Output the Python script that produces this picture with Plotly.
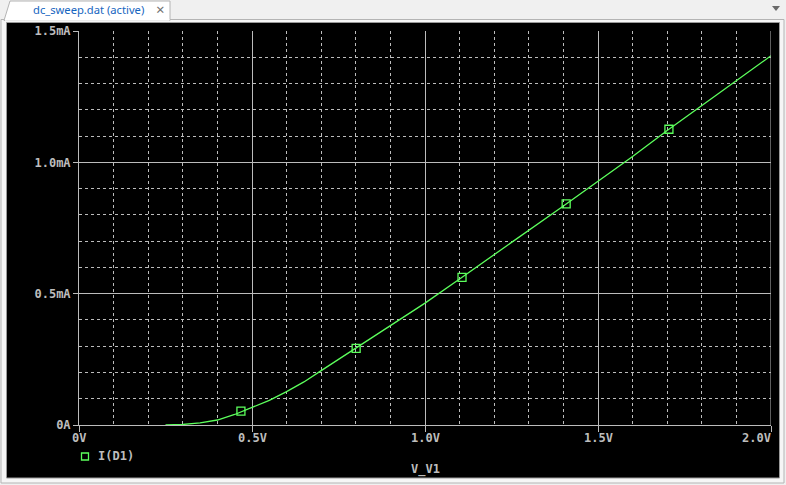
import plotly.graph_objects as go

# ---- data ----
v_sweep = [0.25, 0.30, 0.35, 0.40, 0.45, 0.50, 0.55, 0.60, 0.65, 0.70, 0.80, 0.90,
           1.00, 1.10, 1.20, 1.30, 1.40, 1.50, 1.60, 1.70, 1.80, 1.90, 2.00]
i_d1_mA = [0.000, 0.002, 0.008, 0.019, 0.040, 0.068, 0.094, 0.127, 0.164, 0.207, 0.292, 0.377,
           0.464, 0.556, 0.648, 0.741, 0.834, 0.928, 1.022, 1.121, 1.216, 1.311, 1.406]

marker_v = [0.468, 0.801, 1.107, 1.408, 1.705]
marker_i = [0.053, 0.292, 0.562, 0.842, 1.126]

x_tick_vals = [0.0, 0.5, 1.0, 1.5, 2.0]
x_tick_text = ["0V", "0.5V", "1.0V", "1.5V", "2.0V"]
y_tick_vals = [0.0, 0.5, 1.0, 1.5]
y_tick_text = ["0A", "0.5mA", "1.0mA", "1.5mA"]

trace_name = "I(D1)"
x_title = "V_V1"
tab_title = "dc_sweep.dat (active)"

# ---- layout geometry helpers ----
W, H = 786, 485
L, R, T, B = 79, 771, 31, 425
PW, PH = R - L, B - T


def px(x):
    return (x - L) / PW


def py(y):
    return (B - y) / PH


GREEN = "#5cff5c"
GRID = "#bcbcbc"
TXT = "#bdbdbd"
MONO = "DejaVu Sans Mono"
LBL = dict(family=MONO, size=12, color=TXT, weight="bold")

fig = go.Figure()
fig.add_trace(go.Scatter(x=v_sweep, y=i_d1_mA, mode="lines",
                         line=dict(color=GREEN, width=1.3), cliponaxis=False,
                         showlegend=False, hoverinfo="skip"))
fig.add_trace(go.Scatter(x=marker_v, y=marker_i, mode="markers", name=trace_name,
                         marker=dict(symbol="square-open", size=8,
                                     line=dict(color=GREEN, width=1.3), color=GREEN),
                         cliponaxis=False, showlegend=False))

shapes = [
    # outer frame
    dict(type="rect", xref="paper", yref="paper", x0=px(1), x1=px(784), y0=py(483), y1=py(19.5),
         fillcolor="#f6f6f6", line=dict(color="#b4b4b4", width=1), layer="below"),
    # black panel
    dict(type="rect", xref="paper", yref="paper", x0=px(6.5), x1=px(779.5), y0=py(478), y1=py(22.5),
         fillcolor="black", line=dict(color="#9a9a9a", width=1), layer="below"),
    # tab
    dict(type="path", xref="paper", yref="paper",
         path=f"M {px(4)} {py(20.5)} L {px(10)} {py(1)} L {px(170)} {py(1)} L {px(170)} {py(20.5)} Z",
         fillcolor="white", line=dict(color="#b4b4b4", width=1), layer="below"),
    dict(type="line", xref="paper", yref="paper", x0=px(5), x1=px(169.5), y0=py(20), y1=py(20),
         line=dict(color="white", width=1.5), layer="below"),
    # dropdown triangle
    dict(type="path", xref="paper", yref="paper",
         path=f"M {px(772)} {py(6)} L {px(780)} {py(6)} L {px(776)} {py(11)} Z",
         fillcolor="#6a6a6a", line=dict(width=0), layer="below"),
    # legend square
    dict(type="rect", xref="paper", yref="paper", x0=px(81.5), x1=px(88.5), y0=py(460), y1=py(453),
         fillcolor="rgba(0,0,0,0)", line=dict(color=GREEN, width=1.3)),
]

annotations = []
for v, t in zip(x_tick_vals, x_tick_text):
    last = v == x_tick_vals[-1]
    annotations.append(dict(x=v, xref="x", y=py(438), yref="paper", text=t, showarrow=False,
                            xanchor="right" if last else "center", yanchor="middle",
                            xshift=2 if last else 0, font=LBL))
annotations += [
    dict(x=1.0, xref="x", y=py(469), yref="paper", text=x_title, showarrow=False,
         xanchor="center", yanchor="middle", font=LBL),
    dict(x=px(96), xref="paper", y=py(456), yref="paper", text=trace_name, showarrow=False,
         xanchor="left", yanchor="middle", font=LBL),
    dict(x=px(88), xref="paper", y=py(9.5), yref="paper", text=tab_title, showarrow=False,
         xanchor="center", yanchor="middle", font=dict(family="Noto Sans", size=11.2, color="#1565c0")),
    dict(x=px(160), xref="paper", y=py(9.5), yref="paper", text="×", showarrow=False,
         xanchor="center", yanchor="middle", font=dict(family="Noto Sans", size=15, color="#707070")),
]

fig.update_layout(
    width=W, height=H,
    margin=dict(l=L, r=W - R, t=T, b=H - B, pad=0),
    paper_bgcolor="#f0f0f0", plot_bgcolor="black",
    shapes=shapes, annotations=annotations, showlegend=False,
    xaxis=dict(range=[0, 2], tickvals=x_tick_vals, showticklabels=False,
               ticks="outside", ticklen=6, tickcolor=GRID, tickwidth=1,
               showgrid=True, gridcolor=GRID, gridwidth=1,
               showline=True, linecolor=GRID, linewidth=1, mirror=False, zeroline=False,
               minor=dict(dtick=0.1, showgrid=True, gridcolor=GRID, griddash="3px,3px",
                          gridwidth=1, ticks="")),
    yaxis=dict(range=[0, 1.5], tickvals=y_tick_vals, ticktext=y_tick_text,
               ticks="outside", ticklen=5, tickcolor=GRID, tickwidth=1,
               tickfont=LBL,
               showgrid=True, gridcolor=GRID, gridwidth=1,
               showline=True, linecolor=GRID, linewidth=1, zeroline=False,
               minor=dict(dtick=0.1, showgrid=True, gridcolor=GRID, griddash="3px,3px",
                          gridwidth=1, ticks="")),
)
# right frame line at 2.0V (major grid at range end)
fig.add_shape(type="line", xref="x", yref="paper", x0=2, x1=2, y0=0, y1=1,
              line=dict(color=GRID, width=1))

fig.write_html("out.html", config={"displayModeBar": False},
               post_script="document.body.style.margin='0';document.body.style.overflow='hidden';")
